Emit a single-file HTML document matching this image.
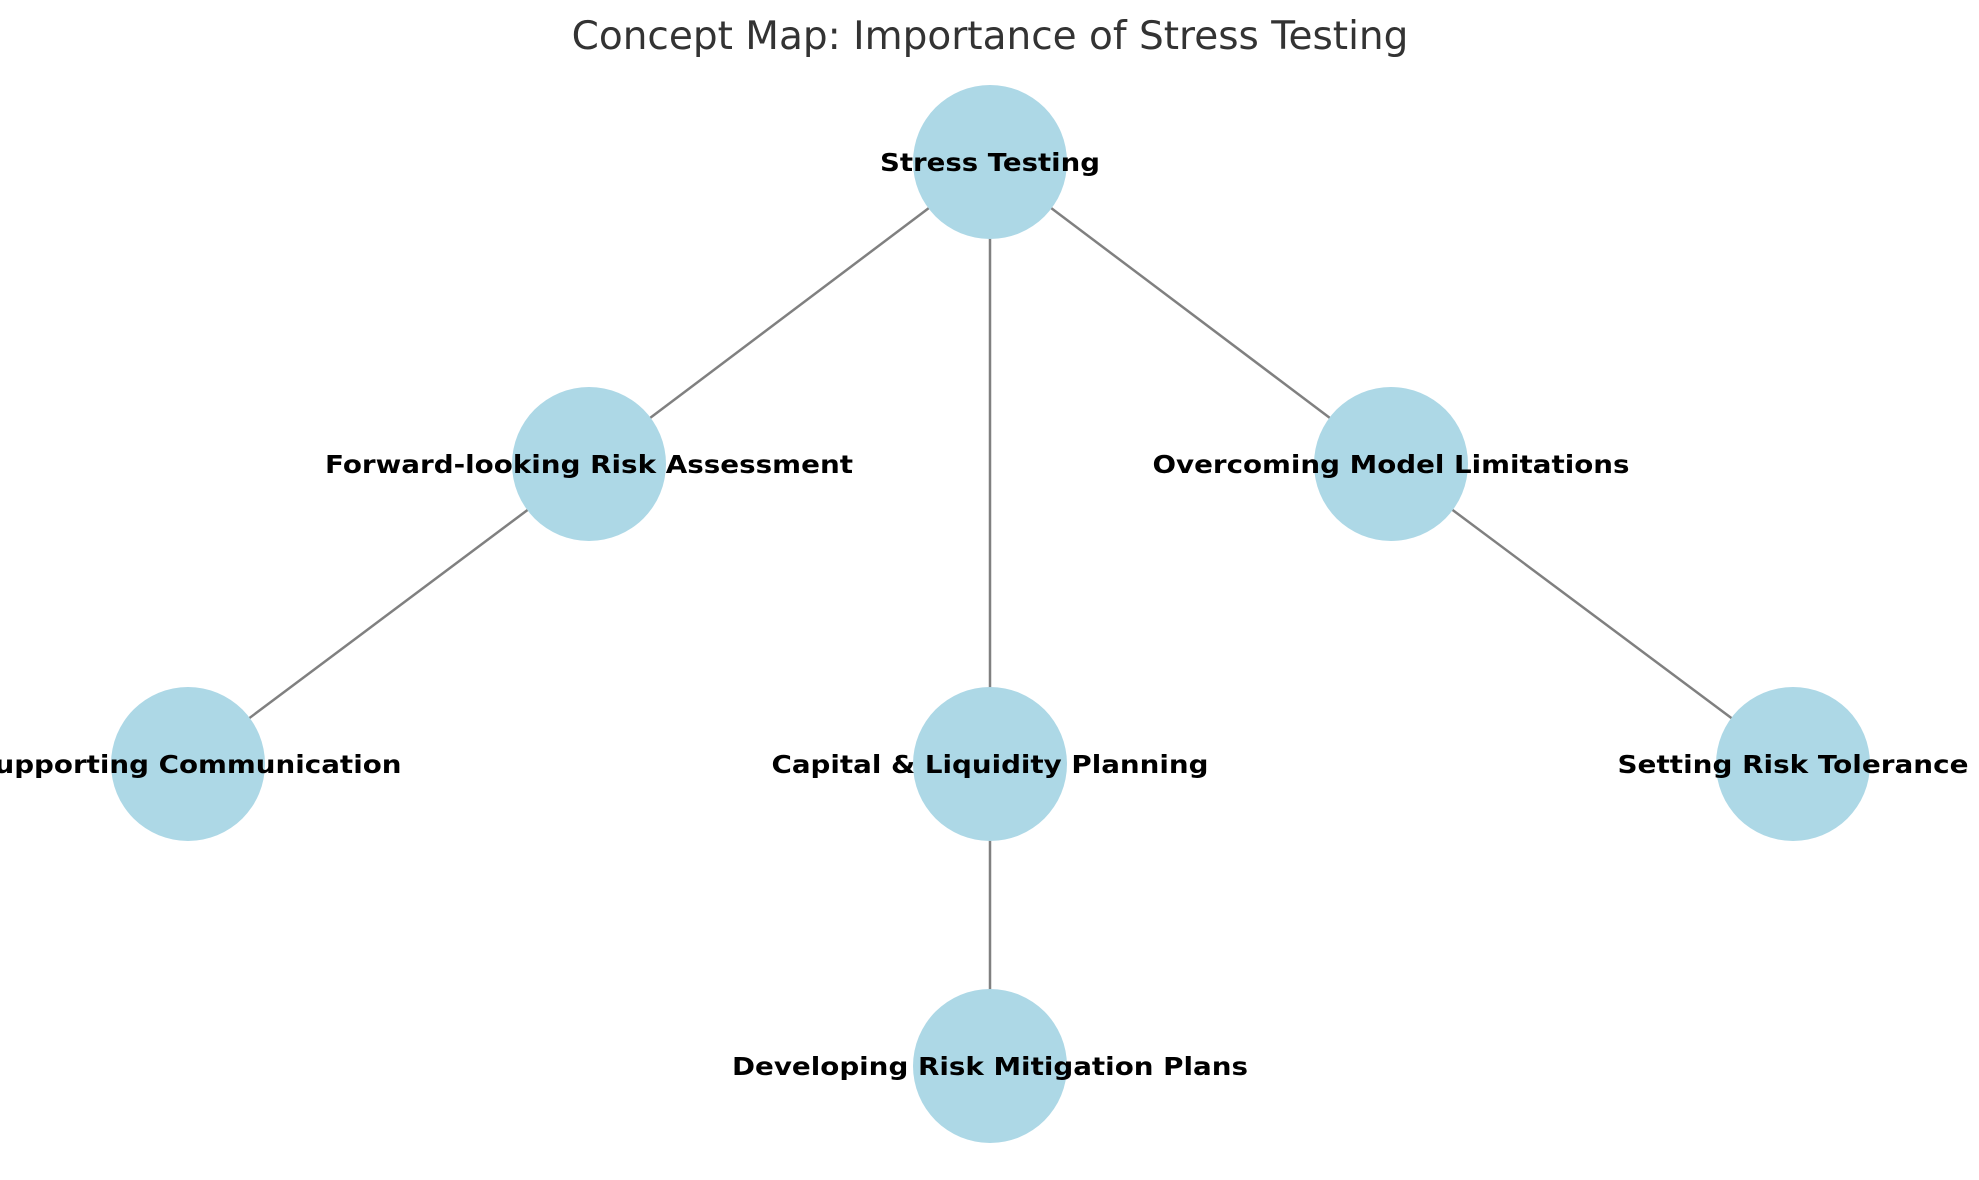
<!DOCTYPE html>
<html><head><meta charset="utf-8"><style>
html,body{margin:0;padding:0;background:#fff;}
svg{display:block;}
</style></head><body>
<svg width="1979" height="1180" viewBox="0 0 1979 1180" xmlns="http://www.w3.org/2000/svg">
<g stroke="#808080" stroke-width="2.5">
<line x1="990" y1="162" x2="589" y2="464"/>
<line x1="990" y1="162" x2="990" y2="764"/>
<line x1="990" y1="162" x2="1391" y2="464"/>
<line x1="589" y1="464" x2="188" y2="764"/>
<line x1="1391" y1="464" x2="1793" y2="764"/>
<line x1="990" y1="764" x2="990" y2="1066"/>
</g>
<g fill="#add8e6">
<circle cx="990" cy="162" r="77"/>
<circle cx="589" cy="464" r="77"/>
<circle cx="1391" cy="464" r="77"/>
<circle cx="188" cy="764" r="77"/>
<circle cx="990" cy="764" r="77"/>
<circle cx="1793" cy="764" r="77"/>
<circle cx="990" cy="1066" r="77"/>
</g>
<text x="990" y="49" text-anchor="middle" font-family="DejaVu Sans, Liberation Sans, sans-serif" font-size="39" fill="#333">Concept Map: Importance of Stress Testing</text>
<g font-family="DejaVu Sans, Liberation Sans, sans-serif" font-weight="bold" font-size="25" fill="#000" text-anchor="middle">
<text x="990" y="171" textLength="220" lengthAdjust="spacingAndGlyphs">Stress Testing</text>
<text x="589" y="473" textLength="528" lengthAdjust="spacingAndGlyphs">Forward-looking Risk Assessment</text>
<text x="1391" y="473" textLength="477" lengthAdjust="spacingAndGlyphs">Overcoming Model Limitations</text>
<text x="188" y="773" textLength="427" lengthAdjust="spacingAndGlyphs">Supporting Communication</text>
<text x="990" y="773" textLength="437" lengthAdjust="spacingAndGlyphs">Capital &amp; Liquidity Planning</text>
<text x="1793" y="773" textLength="351" lengthAdjust="spacingAndGlyphs">Setting Risk Tolerance</text>
<text x="990" y="1075" textLength="516" lengthAdjust="spacingAndGlyphs">Developing Risk Mitigation Plans</text>
</g>
</svg>
</body></html>
